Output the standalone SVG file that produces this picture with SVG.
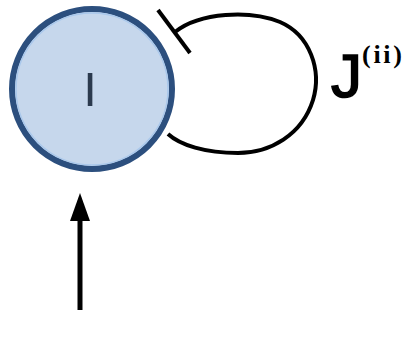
<svg xmlns="http://www.w3.org/2000/svg" width="404" height="340" viewBox="0 0 404 340">
<defs>
<style>
.edge{fill:none;stroke:#000;stroke-width:4;stroke-linecap:butt}
</style>
</defs>
<rect width="404" height="340" fill="#fff"/>
<g id="node-I">
<circle cx="92" cy="89" r="80" fill="#c6d7ec" stroke="#2c4f7e" stroke-width="6"/>
<circle cx="92" cy="89" r="76" fill="none" stroke="#a9c8ec" stroke-width="1.5"/>
<text x="90" y="106" font-family="Liberation Sans, Arial, sans-serif" font-size="49" fill="#2b3a4e" text-anchor="middle">I</text>
</g>
<g id="label-J">
<text x="331" y="97" font-family="Liberation Sans, Arial, sans-serif" font-size="62" fill="#000" stroke="#000" stroke-width="1.6">J</text>
<text x="362" y="63" font-family="Liberation Serif, Times New Roman, serif" font-size="26" font-weight="bold" fill="#000" textLength="40" lengthAdjust="spacing">(ii)</text>
</g>
<g id="connectors">
<path class="edge" d="M175,32 C200,12 250,10 280,22 C310,35 322,70 313,100 C302,135 270,153 238,153 C205,153 180,145 168,134"/>
<line x1="158" y1="10" x2="190" y2="53" stroke="#000" stroke-width="4"/>
<line x1="80" y1="310" x2="80" y2="212" stroke="#000" stroke-width="5"/>
<path d="M80,193 L90,221 L70,221 z" fill="#000"/>
</g>
</svg>
